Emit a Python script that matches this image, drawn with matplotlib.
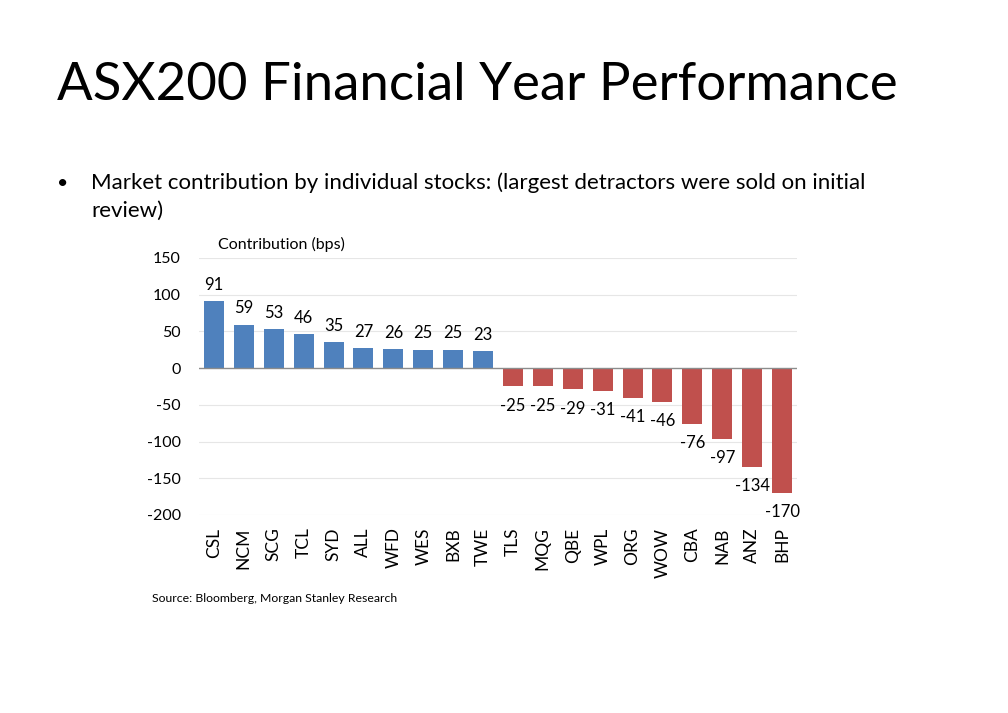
import matplotlib.pyplot as plt

# data
stocks = ['CSL', 'NCM', 'SCG', 'TCL', 'SYD', 'ALL', 'WFD', 'WES', 'BXB', 'TWE',
          'TLS', 'MQG', 'QBE', 'WPL', 'ORG', 'WOW', 'CBA', 'NAB', 'ANZ', 'BHP']
contrib = [91, 59, 53, 46, 35, 27, 26, 25, 25, 23,
           -25, -25, -29, -31, -41, -46, -76, -97, -134, -170]
yticks = [150, 100, 50, 0, -50, -100, -150, -200]

plt.rcParams['font.family'] = ['Lato', 'DejaVu Sans']

fig = plt.figure(figsize=[10.08, 7.13], dpi=100)
W, H = 1008, 713

# axes placed in pixel coords of the reference
x0, x1 = 199, 797
y_top, y_bot = 258, 515
ax = fig.add_axes([x0 / W, 1 - y_bot / H, (x1 - x0) / W, (y_bot - y_top) / H])

cols = ['#4F81BD' if v > 0 else '#C0504D' for v in contrib]
xs = list(range(len(stocks)))
ax.bar(xs, contrib, width=0.67, color=cols, zorder=3)

ax.set_xlim(-0.5, len(stocks) - 0.5)
ax.set_ylim(-200, 150)
ax.set_yticks(yticks)
ax.set_yticklabels([str(t) for t in yticks], fontsize=11.5)
ax.set_xticks(xs)
ax.set_xticklabels(stocks, rotation=90, fontsize=12.5)
ax.tick_params(length=0, pad=13)
ax.tick_params(axis='x', pad=9)
for s in ax.spines.values():
    s.set_visible(False)
for t in yticks:
    if t != 0:
        ax.axhline(t, color='#E6E6E6', lw=0.8, zorder=1)
ax.axhline(0, color='#8C8C8C', lw=1.0, zorder=4)

for x, v in zip(xs, contrib):
    if v > 0:
        ax.annotate(str(v), (x, v), xytext=(0, 6), textcoords='offset points',
                    ha='center', va='bottom', fontsize=12)
    else:
        ax.annotate(str(v), (x, v), xytext=(0, -8), textcoords='offset points',
                    ha='center', va='top', fontsize=12)

# slide text
fig.text(57 / W, 1 - 85 / H, 'ASX200 Financial Year Performance', fontsize=38,
         ha='left', va='center')
fig.text(57 / W, 1 - 183 / H, '•', fontsize=14, ha='left', va='center')
fig.text(91 / W, 1 - 183 / H,
         'Market contribution by individual stocks: (largest detractors were sold on initial',
         fontsize=16, ha='left', va='center')
fig.text(91 / W, 1 - 211 / H, 'review)', fontsize=16, ha='left', va='center')
fig.text(218 / W, 1 - 244 / H, 'Contribution (bps)', fontsize=11.5, ha='left', va='center')
fig.text(152 / W, 1 - 598 / H, 'Source: Bloomberg, Morgan Stanley Research', fontsize=8.8,
         ha='left', va='center')

plt.savefig('out.png', dpi=100)
